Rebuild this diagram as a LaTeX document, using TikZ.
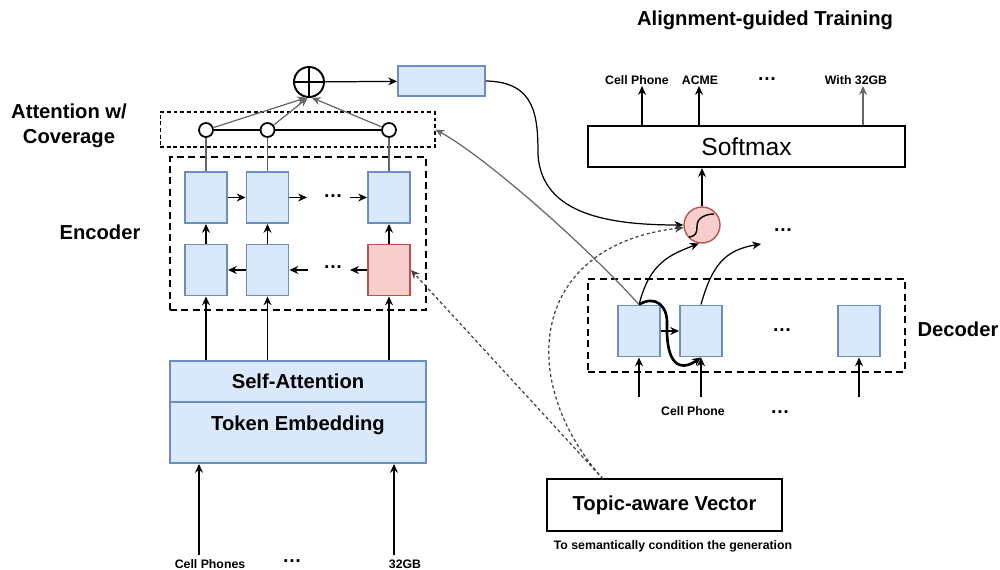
\documentclass[tikz,border=0pt]{standalone}
\usepackage{fontspec}
\setmainfont{Liberation Sans}
\usetikzlibrary{arrows.meta}
\definecolor{bfill}{HTML}{DAE8FC}
\definecolor{bdraw}{HTML}{6C8EBF}
\definecolor{rfill}{HTML}{F8CECC}
\definecolor{rdraw}{HTML}{B85450}
\begin{document}
\begin{tikzpicture}[x=0.02cm,y=-0.02cm,
  >={Stealth[length=5pt,width=4.5pt]},
  blk/.style={draw=bdraw, fill=bfill, line width=1.1pt, minimum width=0.84cm, minimum height=1.02cm, inner sep=0pt},
  rblk/.style={blk, draw=rdraw, fill=rfill},
  dbox/.style={draw, line width=1.1pt, dash pattern=on 4pt off 2.5pt, inner sep=0pt},
  tbox/.style={draw, line width=0.6pt, dash pattern=on 2.2pt off 1.6pt, inner sep=0pt},
  ln/.style={line width=0.7pt},
  gln/.style={line width=0.7pt, draw=black!60},
  lbl/.style={font=\bfseries\fontsize{11.5}{14}\selectfont, align=center},
  sm/.style={font=\bfseries\fontsize{7}{8}\selectfont},
  dotsty/.style={font=\bfseries\fontsize{11}{11}\selectfont, inner sep=0pt},
  dotted line/.style={draw=black!75, line width=0.7pt, dash pattern=on 1.8pt off 1.5pt},
  smallc/.style={circle, draw, line width=1pt, fill=white, minimum size=0.28cm, inner sep=0pt}
]
\useasboundingbox (0,0) rectangle (1000,570);

% ---------- Labels ----------
\node[lbl] (lattn) at (69,126) {Attention w/\\Coverage};
\node[lbl] (lenc) at (100,232) {Encoder};
\node[lbl] (ldec) at (958,329) {Decoder};
\node[lbl] (lalign) at (765,20) {Alignment-guided Training};

% ---------- Encoder ----------
\node[dbox, minimum width=5.12cm, minimum height=3.06cm] (enc) at (298,233.5) {};
\node[blk] (t1) at (206,197.5) {};
\node[blk] (t2) at (267.5,197.5) {};
\node[blk] (t3) at (389,197.5) {};
\node[blk] (b1) at (206,270) {};
\node[blk] (b2) at (267.5,270) {};
\node[rblk] (b3) at (389,270) {};
\node[dotsty] (edots1) at (333,196) {…};
\node[dotsty] (edots2) at (333,267) {…};
\coordinate (ta) at (307,197.5);
\coordinate (tb) at (350,197.5);
\coordinate (ba) at (350,270);
\coordinate (bb) at (308,270);

\draw[ln,->] (t1) -- (t2);
\draw[ln,->] (t2) -- (ta);
\draw[ln,->] (tb) -- (t3);
\draw[ln,->] (b3) -- (ba);
\draw[ln,->] (bb) -- (b2);
\draw[ln,->] (b2) -- (b1);
\draw[ln,->] (b1) -- (t1);
\draw[ln,->] (b2) -- (t2);
\draw[ln,->] (b3) -- (t3);

% ---------- Attention ----------
\node[tbox, minimum width=5.5cm, minimum height=0.7cm] (attn) at (297.5,129.5) {};
\node[smallc] (c1) at (206,130) {};
\node[smallc] (c2) at (267.5,130) {};
\node[smallc] (c3) at (389,130) {};
\draw[ln] (c1) -- (c2);
\draw[ln] (c2) -- (c3);
\draw[gln] (t1.north) -- (c1.south);
\draw[gln] (t2.north) -- (c2.south);
\draw[gln] (t3.north) -- (c3.south);

\node[circle, draw, line width=1.1pt, minimum size=0.6cm, inner sep=0pt] (plus) at (309,82) {};
\draw[line width=0.8pt] (plus.north) -- (plus.south) (plus.west) -- (plus.east);
\draw[gln,->] (c1) -- (plus.-100);
\draw[gln,->] (c2) -- (plus.-95);
\draw[gln,->] (c3) -- (plus.-80);

\node[blk, minimum width=1.74cm, minimum height=0.6cm] (ctx) at (441.5,81) {};
\draw[ln,->] (plus) -- (ctx);

% ---------- Self-Attention / Embedding ----------
\node[blk, minimum width=5.12cm, minimum height=0.82cm, lbl] (sa) at (298,381.5) {Self-Attention};
\node[blk, minimum width=5.12cm, minimum height=1.22cm] (te) at (298,432.5) {};
\node[lbl] (telbl) at (298,425) {Token Embedding};
\draw[ln,->] (sa.north -| b1) -- (b1);
\draw[ln,->] (sa.north -| b2) -- (b2);
\draw[ln,->] (sa.north -| b3) -- (b3);

\node[sm] (in1) at (210,564) {Cell Phones};
\node[dotsty] (in2) at (292,561) {…};
\node[sm] (in3) at (405,564) {32GB};
\coordinate (ia) at (199,555);
\coordinate (ib) at (394,555);
\draw[ln,->] (ia) -- (ia |- te.south);
\draw[ln,->] (ib) -- (ib |- te.south);

% ---------- Softmax ----------
\node[draw, line width=1.3pt, minimum width=6.34cm, minimum height=0.82cm, font=\fontsize{14}{16}\selectfont] (soft) at (746.5,146.5) {Softmax};
\node[sm] (o1) at (637,80) {Cell Phone};
\node[sm] (o2) at (700,80) {ACME};
\node[dotsty] (o3) at (767,79) {…};
\node[sm] (o4) at (856,80) {With 32GB};
\coordinate (oa) at (642,86);
\coordinate (ob) at (699,86);
\coordinate (oc) at (863,86);
\draw[ln,->] (soft.north -| oa) -- (oa);
\draw[ln,->] (soft.north -| ob) -- (ob);
\draw[gln,->] (soft.north -| oc) -- (oc);

% ---------- Sigmoid gate ----------
\node[circle, draw=rdraw, fill=rfill, line width=0.8pt, minimum size=0.72cm, inner sep=0pt] (sig) at (702,225) {};
\draw[line width=0.8pt] ([shift={(-13,12)}]sig.center) .. controls +(7,-1) and +(0,7) .. ([shift={(-5,1)}]sig.center) .. controls +(0,-9) and +(-7,0) .. ([shift={(12,-11)}]sig.center);
\draw[ln,->] (sig) -- (soft.south -| sig);

% ---------- Decoder ----------
\node[dbox, minimum width=6.34cm, minimum height=1.86cm] (dec) at (746.5,325.5) {};
\node[blk] (d1) at (639,331) {};
\node[blk] (d2) at (701,331) {};
\node[blk] (d3) at (859,331) {};
\node[dotsty] (ddots) at (782,330) {…};
\draw[ln,->] (d1) -- (d2);

\coordinate (da) at (639,397);
\coordinate (db) at (701,397);
\coordinate (dc) at (859,397);
\draw[ln,->] (da) -- (d1);
\draw[ln,->] (db) -- (d2);
\draw[ln,->] (dc) -- (d3);
\node[sm] (dl1) at (693,411) {Cell Phone};
\node[dotsty] (dl2) at (780,412) {…};

\draw[line width=1.5pt,->] (d1.north) .. controls (655,295) and (668,305) .. (667,325) .. controls (666,365) and (680,372) .. (d2.south);
\draw[ln,->] (d1.north) .. controls (650,262) and (670,255) .. (sig.-100);
\coordinate (nx) at (761,244);
\draw[ln,->] (d2.north) .. controls (712,265) and (725,250) .. (nx);
\node[dotsty] (ndots) at (783,230) {…};

\draw[gln,->] (d1.north) .. controls (590,250) and (490,160) .. (attn.east);
\draw[ln,->] (ctx.east) .. controls (535,82) and (538,115) .. (538,155) .. controls (542,215) and (610,225) .. (sig.west);

% ---------- Topic vector ----------
\node[draw, line width=1.3pt, minimum width=4.7cm, minimum height=1.04cm, lbl] (topic) at (664.5,505) {Topic-aware Vector};
\node[sm] (tcap) at (673,546) {To semantically condition the generation};
\coordinate (tp) at (603,479);
\draw[dotted line,->] (tp) -- (b3.east);
\draw[dotted line,->] (tp) .. controls (515,380) and (530,245) .. (sig.188);
\end{tikzpicture}
\end{document}
